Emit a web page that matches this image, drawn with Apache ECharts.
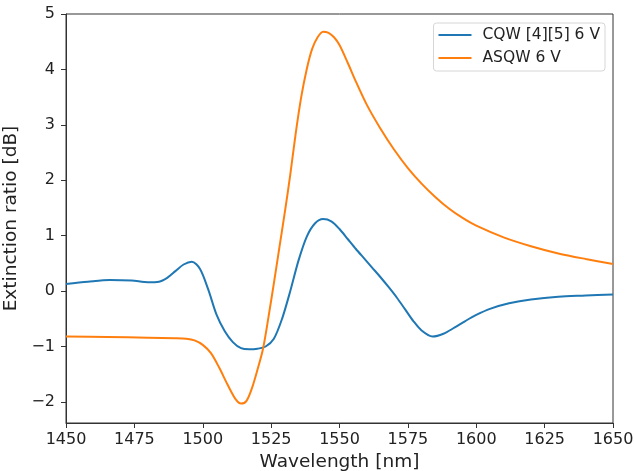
<!DOCTYPE html>
<html lang="en">
<head>
    <meta charset="UTF-8">
    <title>Extinction ratio</title>
    <script src="https://cdn.jsdelivr.net/npm/echarts@6/dist/echarts.min.js"></script>
    <style>
        body { margin: 0; background: #fff; }
        #chart { width: 634px; height: 471px; }
    </style>
</head>
<body>
    <div id="chart"></div>
    <script>
// wavelength [nm] / extinction ratio [dB]
const cqwWl = [1450, 1458, 1466, 1474, 1480, 1484, 1487, 1490, 1493, 1496, 1499, 1502, 1505, 1508, 1511, 1514, 1517, 1520, 1523, 1526, 1529, 1532, 1535, 1538, 1541, 1544, 1547, 1550, 1553, 1556, 1559, 1562, 1565, 1568, 1571, 1574, 1577, 1580, 1584, 1588, 1592, 1596, 1600, 1605, 1612, 1620, 1630, 1640, 1650];
const cqwVal = [0.13, 0.17, 0.2, 0.19, 0.16, 0.17, 0.24, 0.36, 0.48, 0.53, 0.4, 0.03, -0.42, -0.72, -0.92, -1.03, -1.05, -1.04, -1.0, -0.86, -0.5, 0.0, 0.55, 0.98, 1.22, 1.3, 1.26, 1.12, 0.94, 0.76, 0.59, 0.42, 0.25, 0.07, -0.12, -0.33, -0.54, -0.71, -0.82, -0.77, -0.66, -0.54, -0.43, -0.32, -0.22, -0.15, -0.1, -0.08, -0.06];

const asqwWl = [1450, 1465, 1480, 1490, 1494, 1497, 1500, 1503, 1506, 1509, 1512, 1514, 1516, 1518, 1520, 1522, 1524, 1526, 1528, 1530, 1532, 1534, 1536, 1538, 1540, 1542, 1544, 1546, 1548, 1550, 1553, 1556, 1560, 1565, 1570, 1575, 1580, 1585, 1590, 1595, 1600, 1610, 1620, 1630, 1640, 1650];
const asqwVal = [-0.82, -0.83, -0.84, -0.85, -0.86, -0.89, -0.97, -1.12, -1.38, -1.68, -1.95, -2.03, -1.98, -1.75, -1.42, -1.05, -0.48, 0.14, 0.78, 1.42, 2.1, 2.85, 3.5, 4.0, 4.37, 4.58, 4.68, 4.66, 4.58, 4.44, 4.12, 3.78, 3.36, 2.93, 2.55, 2.22, 1.94, 1.7, 1.49, 1.32, 1.18, 0.97, 0.81, 0.68, 0.58, 0.49];

const xTicks = [1450, 1475, 1500, 1525, 1550, 1575, 1600, 1625, 1650];
const yTicks = [-2, -1, 0, 1, 2, 3, 4, 5];

const chart = echarts.init(document.getElementById('chart'));

const font = 'DejaVu Sans';
const axisCol = '#333';
const textCol = '#222';

function pairs(xs, ys) {
    return xs.map((x, i) => [x, ys[i]]);
}

const option = {
    animation: false,
    textStyle: { fontFamily: font },
    grid: {
        left: 66, right: 21, top: 14, bottom: 48,
        outerBoundsMode: 'none',
        show: true, borderColor: axisCol, borderWidth: 1
    },
    legend: {
        right: 29, top: 23,
        orient: 'vertical',
        itemWidth: 33, itemHeight: 2, itemGap: 7,
        icon: 'rect',
        padding: [4, 5, 5, 5],
        borderColor: '#d6d6d6', borderWidth: 1, borderRadius: 3,
        textStyle: { fontFamily: font, fontSize: 15.5, color: textCol, padding: [0, 0, 0, 6] },
        data: ['CQW [4][5] 6 V', 'ASQW 6 V']
    },
    xAxis: {
        type: 'value', min: 1450, max: 1650,
        name: 'Wavelength [nm]', nameLocation: 'middle', nameGap: 29,
        nameTextStyle: { fontSize: 18.5, color: textCol, fontFamily: font },
        axisLine: { onZero: false, lineStyle: { color: axisCol } },
        axisTick: { show: true, length: 5, lineStyle: { color: axisCol }, customValues: xTicks },
        axisLabel: {
            fontSize: 16, color: textCol, margin: 9, customValues: xTicks,
            formatter: v => String(v)
        },
        splitLine: { show: false }
    },
    yAxis: {
        type: 'value', min: -2.38, max: 5.0,
        name: 'Extinction ratio [dB]', nameLocation: 'middle', nameGap: 36,
        nameTextStyle: { fontSize: 18.5, color: textCol, fontFamily: font },
        axisLine: { show: true, onZero: false, lineStyle: { color: axisCol } },
        axisTick: { show: true, length: 5, lineStyle: { color: axisCol }, customValues: yTicks },
        axisLabel: {
            fontSize: 16, color: textCol, margin: 11, customValues: yTicks,
            formatter: v => String(v).replace('-', '\u2212')
        },
        splitLine: { show: false }
    },
    series: [
        {
            name: 'CQW [4][5] 6 V', type: 'line', data: pairs(cqwWl, cqwVal),
            smooth: 0.3, showSymbol: false, symbol: 'none',
            lineStyle: { width: 2, color: '#1f77b4' }, itemStyle: { color: '#1f77b4' }
        },
        {
            name: 'ASQW 6 V', type: 'line', data: pairs(asqwWl, asqwVal),
            smooth: 0.3, showSymbol: false, symbol: 'none',
            lineStyle: { width: 2, color: '#ff7f0e' }, itemStyle: { color: '#ff7f0e' }
        }
    ]
};

chart.setOption(option);
    </script>
</body>
</html>
